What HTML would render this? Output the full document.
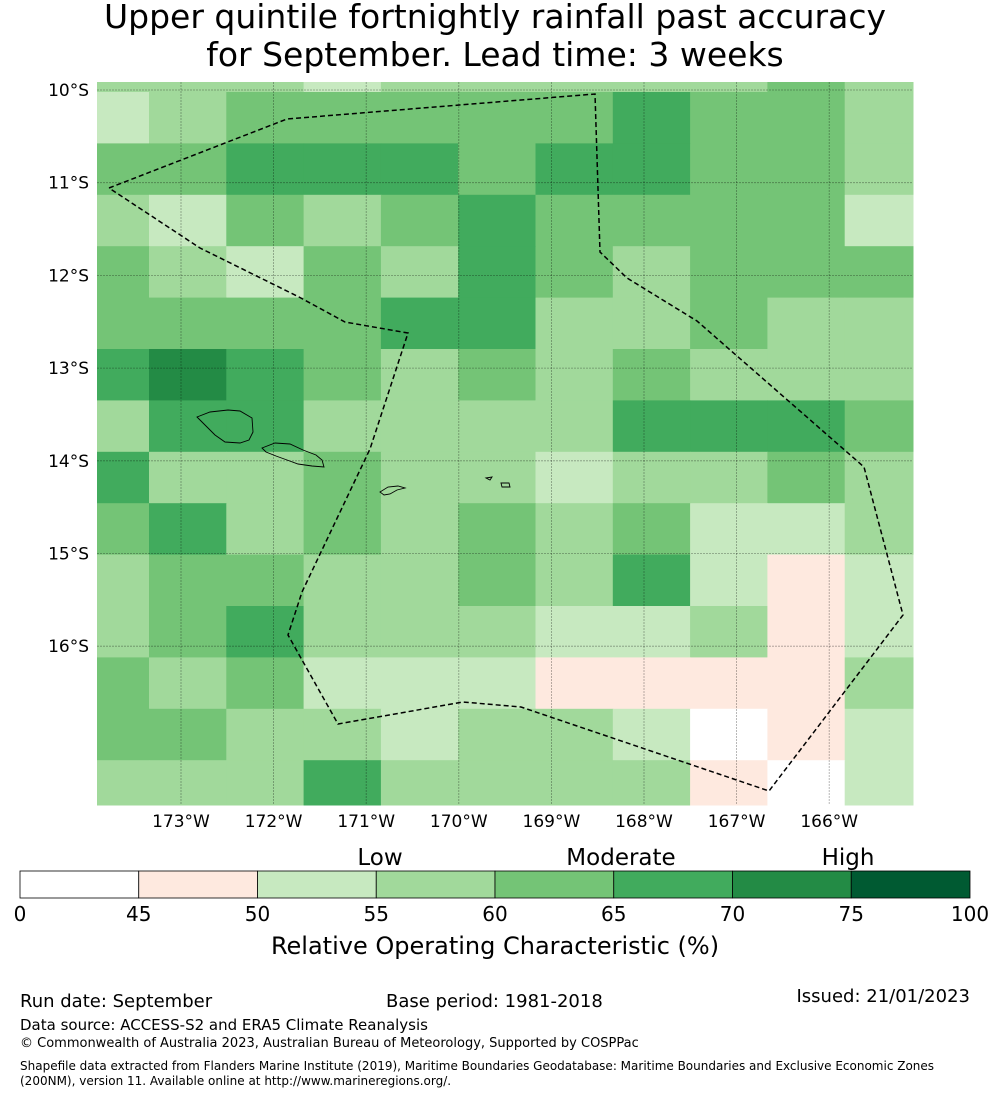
<!DOCTYPE html>
<html><head><meta charset="utf-8"><style>
body{margin:0;background:#fff;font-family:"Liberation Sans","DejaVu Sans",sans-serif;}
svg text{font-family:"DejaVu Sans","Liberation Sans",sans-serif;}
</style></head><body>
<svg width="990" height="1095" viewBox="0 0 990 1095" xmlns="http://www.w3.org/2000/svg">
<text x="495" y="28" font-size="33" text-anchor="middle">Upper quintile fortnightly rainfall past accuracy</text>
<text x="495" y="66" font-size="33" text-anchor="middle">for September. Lead time: 3 weeks</text>
<g id="cells"></g>
<g id="grid"></g>
<g id="islands" fill="none" stroke="#000" stroke-width="0.9">
<path d="M197,417 L210,412 L228,410 L240,411 L252,418 L253,432 L249,440 L240,443 L225,442 L215,435 L205,425 Z"/>
<path d="M262,448 L275,443 L290,444 L303,450 L316,455 L322,460 L324,467 L312,466 L298,464 L287,460 L276,456 L266,452 Z"/>
<path d="M380,492 L388,487 L398,486 L405,488 L397,490 L390,494 L384,495 Z"/>
<path d="M486,478 L492,477 L490,480 Z M501,483 L509,483 L510,487 L502,487 Z"/>
</g>
<polyline fill="none" stroke="#000" stroke-width="1.5" stroke-dasharray="5,3" points="109,188 287,119 595,94 600,252 627,278 697,321 864,467 903,615 769,791 521,707 463,702 338,724 288,635 302,592 370,449 408,333 345,322 299,297 200,248 109,188"/>
<g id="axislabels" font-size="17"></g>
<g id="cbar"></g>
<text x="380" y="865" font-size="23" text-anchor="middle">Low</text>
<text x="621" y="865" font-size="23" text-anchor="middle">Moderate</text>
<text x="848" y="865" font-size="23" text-anchor="middle">High</text>
<text x="495" y="954" font-size="24" text-anchor="middle">Relative Operating Characteristic (%)</text>
<text x="20" y="1007" font-size="18">Run date: September</text>
<text x="386" y="1007" font-size="18">Base period: 1981-2018</text>
<text x="970" y="1002" font-size="18" text-anchor="end">Issued: 21/01/2023</text>
<text x="20" y="1030" font-size="15">Data source: ACCESS-S2 and ERA5 Climate Reanalysis</text>
<text x="20" y="1047" font-size="13">© Commonwealth of Australia 2023, Australian Bureau of Meteorology, Supported by COSPPac</text>
<text x="20" y="1070" font-size="12">Shapefile data extracted from Flanders Marine Institute (2019), Maritime Boundaries Geodatabase: Maritime Boundaries and Exclusive Economic Zones</text>
<text x="20" y="1085" font-size="12">(200NM), version 11. Available online at http://www.marineregions.org/.</text>
</svg>
<script>
const rocRows = [
[57,57,57,52,57,57,57,57,57,62,57],
[52,57,62,62,62,62,62,67,62,62,57],
[62,62,67,67,67,62,67,67,62,62,57],
[57,52,62,57,62,67,62,62,62,62,52],
[62,57,52,62,57,67,62,57,62,62,62],
[62,62,62,62,67,67,57,57,62,57,57],
[67,72,67,62,57,62,57,62,57,57,57],
[57,67,67,57,57,57,57,67,67,67,62],
[67,57,57,62,57,57,52,57,57,62,57],
[62,67,57,62,57,62,57,62,52,52,57],
[57,62,62,57,57,62,57,67,52,47,52],
[57,62,67,57,57,57,52,52,57,47,52],
[62,57,62,52,52,52,47,47,47,47,57],
[62,62,57,57,52,57,57,52,40,47,52],
[57,57,57,67,57,57,57,57,47,40,52]
];
const cbarTicks = [0,45,50,55,60,65,70,75,100];
const cbarColors = ["#ffffff","#fee9df","#c7e9c0","#a1d99b","#74c476","#41ab5d","#238b45","#005a32"];
const lonLabels = ["173°W","172°W","171°W","170°W","169°W","168°W","167°W","166°W"];
const latLabels = ["10°S","11°S","12°S","13°S","14°S","15°S","16°S"];
const NS="http://www.w3.org/2000/svg";
function mk(t,a,p){const e=document.createElementNS(NS,t);for(const k in a)e.setAttribute(k,a[k]);p.appendChild(e);return e;}
function color(v){for(let i=cbarTicks.length-2;i>=0;i--){if(v>=cbarTicks[i])return cbarColors[i];}return cbarColors[0];}
function colX(i){return i===0?97:149+(i-1)*77.3;}
function rowY(j){return j===0?82:92+(j-1)*51.4;}
const X1=913,Y1=805;
const cells=document.getElementById('cells');
rocRows.forEach((row,j)=>row.forEach((v,i)=>{
 const x0=colX(i),x1=i===row.length-1?X1:colX(i+1);
 const y0=rowY(j),y1=j===rocRows.length-1?Y1:rowY(j+1);
 const r=mk('rect',{x:x0,y:y0,width:x1-x0+0.5,height:y1-y0+0.5,fill:color(v)},cells);
 
 
}));
const lonX=k=>181+k*92.6, latY=k=>90+k*92.7;
const grid=document.getElementById('grid'),ax=document.getElementById('axislabels');
lonLabels.forEach((l,k)=>{
 const ln=mk('line',{x1:lonX(k),y1:82,x2:lonX(k),y2:805,stroke:'#000','stroke-opacity':0.35,'stroke-width':0.8,'stroke-dasharray':'2,1'},grid);
 
 
 const t=mk('text',{x:lonX(k),y:827,'text-anchor':'middle'},ax);t.textContent=l;
 
 
});
latLabels.forEach((l,k)=>{
 const ln=mk('line',{x1:97,y1:latY(k),x2:913,y2:latY(k),stroke:'#000','stroke-opacity':0.35,'stroke-width':0.8,'stroke-dasharray':'2,1'},grid);
 
 
 const t=mk('text',{x:89,y:latY(k)+6,'text-anchor':'end'},ax);t.textContent=l;
 
 
});
const cb=document.getElementById('cbar');
const cx0=20,cx1=970,seg=(cx1-cx0)/(cbarTicks.length-1);
cbarColors.forEach((c,i)=>{
 const r=mk('rect',{x:cx0+i*seg,y:871,width:seg,height:27,fill:c,stroke:'#000','stroke-width':0.8},cb);
 
 
});
cbarTicks.forEach((v,i)=>{
 const t=mk('text',{x:cx0+i*seg,y:921,'text-anchor':'middle','font-size':20},cb);t.textContent=v;
 
 
});
</script>
</body></html>
